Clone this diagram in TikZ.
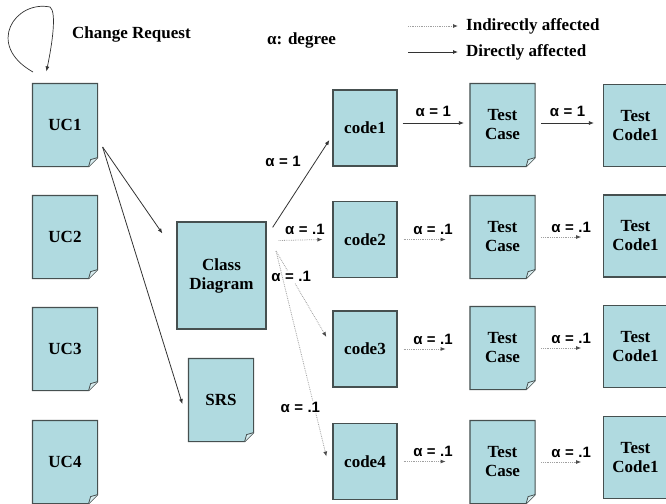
\documentclass[tikz,border=0pt]{standalone}
\usepackage{fontspec}
\setmainfont{Liberation Serif}
\newfontfamily\alphafont{Liberation Sans}
\usetikzlibrary{arrows.meta,positioning,backgrounds}
\definecolor{ImpactFill}{RGB}{176,218,224}
\definecolor{ImpactLine}{RGB}{70,80,80}
\definecolor{ImpactDot}{RGB}{160,160,160}
\newcommand{\alphadeg}[1]{α\hspace{4.5pt}=\hspace{4.5pt}#1}

\begin{document}
\begin{tikzpicture}[
    x=1pt,y=-1pt,
    box/.style={draw=ImpactLine,fill=ImpactFill,line width=1.2pt,minimum width=64pt,minimum height=82pt,align=center,inner sep=0pt,font=\fontsize{17}{19}\selectfont\bfseries},
    codebox/.style={box,minimum height=76pt},
    doc/.style={box,draw=none,fill=none},
    lbl/.style={font=\alphafont\fontsize{15}{17}\selectfont\bfseries,fill=white,inner sep=1pt},
    note/.style={font=\fontsize{17}{19}\selectfont\bfseries,anchor=west,inner sep=0pt},
    direct/.style={-{Latex[length=5pt,width=4pt]},line width=0.8pt,draw=black!80},
    indirect/.style={-{Latex[length=5pt,width=4pt,color=black!70]},densely dotted,line width=0.8pt,draw=ImpactDot}
  ]
    \useasboundingbox (0,0) rectangle (666,503);

    % top notes and legend
    \node[note] (cr) at (72,34) {Change Request};
    \node[note] (deg) at (267,40) {α: degree};
    \node[note] (indir) at (466,26) {Indirectly affected};
    \node[note] (dir) at (466,52) {Directly affected};
    \draw[indirect] ([xshift=-58pt]indir.west) -- ([xshift=-8pt]indir.west);
    \draw[direct] ([xshift=-58pt]dir.west) -- ([xshift=-8pt]dir.west);

    % use cases, class diagram, srs
    \node[doc] (uc1) at (65,125) {UC1};
    \node[doc] (uc2) at (65,237) {UC2};
    \node[doc] (uc3) at (65,349) {UC3};
    \node[doc] (uc4) at (65,462) {UC4};
    \node[box,minimum width=89pt,minimum height=107pt] (class) at (221.5,275.5) {Class\\Diagram};
    \node[doc] (srs) at (221,400) {SRS};

    % code, test case, test code rows
    \foreach \i/\y in {1/128,2/239.5,3/349,4/461.5}
      \node[codebox] (code\i) at (365,\y) {code\i};
    \foreach \i/\y in {1/125,2/237,3/348,4/462}
      \node[doc] (tc\i) at (502.5,\y) {Test\\Case};
    \foreach \i/\y in {1/125.5,2/236,3/346.5,4/457.5}
      \node[box] (tcode\i) at (635.5,\y) {Test\\Code1};

    % folded-corner outlines
    \begin{scope}[on background layer]
      \foreach \d in {uc1,uc2,uc3,uc4,srs,tc1,tc2,tc3,tc4}{
        \draw[draw=ImpactLine,fill=ImpactFill,line width=1.2pt] (\d.north west) -- (\d.north east) -- ([yshift=9pt]\d.south east) -- ([xshift=-9pt]\d.south east) -- (\d.south west) -- cycle;
        \draw[draw=ImpactLine,fill=ImpactFill!50!white,line width=0.8pt] ([yshift=9pt]\d.south east) -- ([xshift=-7pt,yshift=7pt]\d.south east) -- ([xshift=-9pt]\d.south east);
      }
    \end{scope}

    % change request loop
    \coordinate (crstart) at (33,72);
    \draw[direct,line width=0.7pt] (crstart) .. controls (-15,45) and (15,0) .. (50,7) .. controls (57,12) and (52,45) .. ([shift={(14,-12)}]uc1.north west);

    % use case links
    \draw[direct] ([shift={(5,22)}]uc1.east) -- ([shift={(-14,-42)}]class.west);
    \draw[direct] ([shift={(5,22)}]uc1.east) -- ([shift={(-6,4)}]srs.west);

    % class diagram to code
    \coordinate (fan) at (276,251);
    \draw[direct] ([shift={(6,6)}]class.north east) -- ([shift={(-3,12)}]code1.west) node[lbl,pos=0.75,left=13pt] {\alphadeg{1}};
    \draw[indirect] ([shift={(12,-35)}]class.east) -- ([shift={(-10,0)}]code2.west) node[lbl,pos=0.6,above=4pt] {\alphadeg{.1}};
    \draw[indirect] (fan) -- ([shift={(-6,-12)}]code3.west) node[lbl,pos=0.3] {\alphadeg{.1}};
    \draw[indirect] (fan) -- ([shift={(-6,-5)}]code4.west) node[lbl,pos=0.76,xshift=-14pt] {\alphadeg{.1}};

    % along the rows
    \draw[direct] ([shift={(5,-5)}]code1.east) -- ([shift={(-6,-2)}]tc1.west) node[lbl,midway,above=5pt] {\alphadeg{1}};
    \draw[direct] ([shift={(6,-2)}]tc1.east) -- ([shift={(-9,-2.5)}]tcode1.west) node[lbl,midway,above=5pt] {\alphadeg{1}};
    \foreach \i in {2,3,4}{
      \draw[indirect] ([xshift=6pt]code\i.east) -- ([xshift=48pt]code\i.east) node[lbl,pos=0.7,above=3pt] {\alphadeg{.1}};
      \draw[indirect] ([xshift=6pt]tc\i.east) -- ([xshift=46pt]tc\i.east) node[lbl,pos=0.75,above=3pt] {\alphadeg{.1}};
    }
  \end{tikzpicture}
\end{document}
